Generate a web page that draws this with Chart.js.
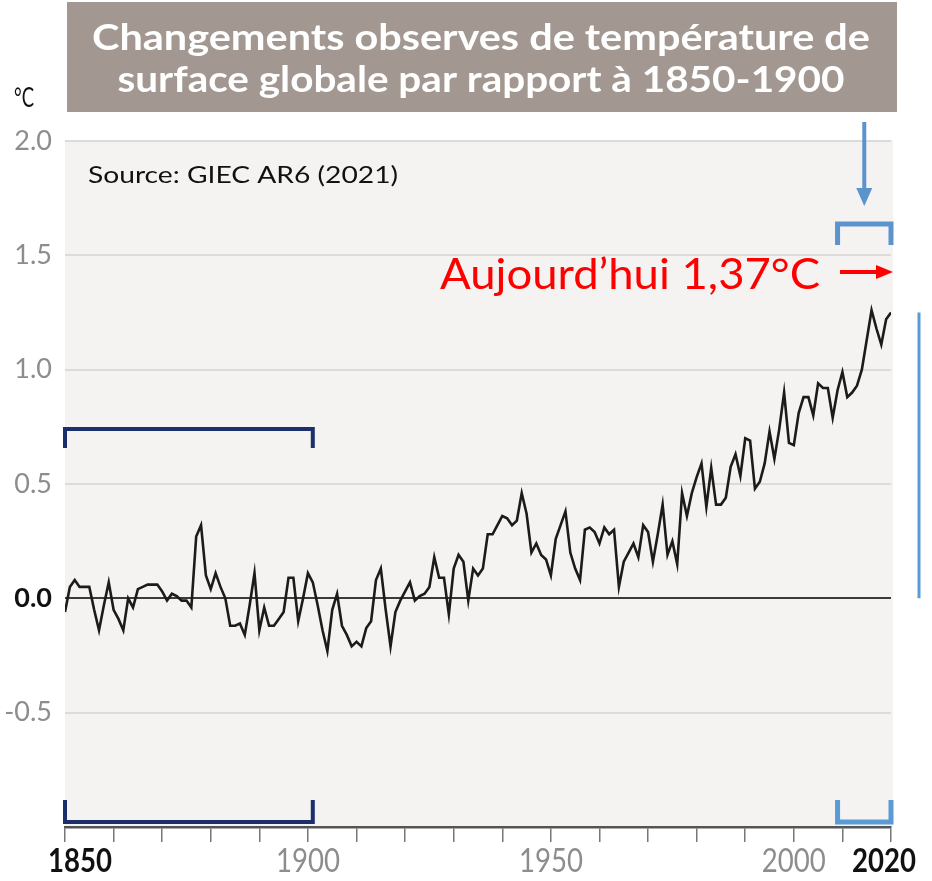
<!DOCTYPE html>
<html>
<head>
<meta charset="utf-8">
<script src="https://cdn.jsdelivr.net/npm/chart.js@4.4.0/dist/chart.umd.min.js"></script>
<style>
html,body{margin:0;padding:0;background:#ffffff;}
#wrap{position:relative;width:932px;height:881px;}
canvas{display:block;}
</style>
</head>
<body>
<div id="wrap"><canvas id="c" width="932" height="881"></canvas></div>
<script>
// ---------- DATA ----------
const startYear = 1850;
const anom1850to1899 = [
  -0.06, 0.05, 0.08, 0.05, 0.05, 0.05, -0.05, -0.14, -0.03, 0.07,
  -0.05, -0.09, -0.14, 0.00, -0.04, 0.04, 0.05, 0.06, 0.06, 0.06,
  0.03, -0.01, 0.02, 0.01, -0.01, -0.01, -0.04, 0.27, 0.32, 0.10,
  0.04, 0.11, 0.05, 0.00, -0.12, -0.12, -0.11, -0.16, -0.03, 0.11,
  -0.14, -0.04, -0.12, -0.12, -0.09, -0.06, 0.09, 0.09, -0.10, 0.00
];
const anom1900to1949 = [
  0.11, 0.07, -0.03, -0.14, -0.23, -0.05, 0.02, -0.12, -0.16, -0.21,
  -0.19, -0.21, -0.13, -0.10, 0.08, 0.13, -0.05, -0.21, -0.06, -0.01,
  0.03, 0.07, -0.01, 0.01, 0.02, 0.05, 0.18, 0.09, 0.09, -0.07,
  0.13, 0.19, 0.16, -0.01, 0.13, 0.10, 0.13, 0.28, 0.28, 0.32,
  0.36, 0.35, 0.32, 0.34, 0.46, 0.37, 0.20, 0.24, 0.19, 0.17
];
const anom1950to1999 = [
  0.10, 0.26, 0.32, 0.38, 0.20, 0.13, 0.08, 0.30, 0.31, 0.29,
  0.24, 0.31, 0.28, 0.30, 0.05, 0.16, 0.20, 0.24, 0.18, 0.32,
  0.29, 0.16, 0.28, 0.41, 0.19, 0.25, 0.15, 0.46, 0.36, 0.46,
  0.53, 0.59, 0.40, 0.57, 0.41, 0.41, 0.44, 0.575, 0.63, 0.535,
  0.70, 0.69, 0.48, 0.51, 0.59, 0.73, 0.61, 0.74, 0.90, 0.68
];
const anom2000to2020 = [
  0.67, 0.81, 0.88, 0.88, 0.80, 0.94, 0.92, 0.92, 0.79, 0.91,
  0.99, 0.88, 0.90, 0.93, 1.00, 1.13, 1.26, 1.18, 1.11, 1.22,
  1.25
];
const yTickValues = [-1.0, -0.5, 0.0, 0.5, 1.0, 1.5, 2.0];
const xTickYears = [1850,1860,1870,1880,1890,1900,1910,1920,1930,1940,1950,1960,1970,1980,1990,2000,2010,2020];
const xLabelYears = [1850, 1900, 1950, 2000, 2020];
const boldXLabelYears = [1850, 2020];
const referencePeriod = [1850, 1901];
const recentPeriod = [2009, 2020];
const todayValue = 1.25;
const titleLines = ["Changements observes de température de", "surface globale par rapport à 1850-1900"];
const unitText = "°C";
const sourceText = "Source: GIEC AR6 (2021)";
const todayText = "Aujourd’hui 1,37°C";

// ---------- BUILD ----------
const anomalies = anom1850to1899.concat(anom1900to1949, anom1950to1999, anom2000to2020);
const points = anomalies.map((v, i) => ({x: startYear + i, y: v}));

function fitText(ctx, text, x, y, w, font, color, align) {
  ctx.save();
  ctx.font = font;
  ctx.fillStyle = color;
  ctx.textBaseline = 'middle';
  ctx.textAlign = 'left';
  const m = ctx.measureText(text).width;
  const sx = w / m;
  ctx.translate(x, y);
  ctx.scale(sx, 1);
  let ox = 0;
  if (align === 'center') ox = -m / 2;
  else if (align === 'right') ox = -m;
  ctx.fillText(text, ox, 0);
  ctx.restore();
}

const bgPlugin = {
  id: 'bg',
  beforeDraw(chart) {
    const {ctx, chartArea: a} = chart;
    ctx.save();
    ctx.fillStyle = '#f4f3f1';
    ctx.fillRect(a.left, a.top - 1, a.right - a.left + 2, a.bottom - a.top + 1);
    ctx.restore();
  }
};

const annotPlugin = {
  id: 'annot',
  afterDraw(chart) {
    const ctx = chart.ctx;
    const xs = chart.scales.x, ys = chart.scales.y;
    const X = v => xs.getPixelForValue(v);
    const Y = v => ys.getPixelForValue(v);
    ctx.save();

    // title box
    ctx.fillStyle = '#a29891';
    ctx.fillRect(67, 2, 830, 110);
    fitText(ctx, titleLines[0], 481, 38, 778, 'bold 36px Lato', '#ffffff', 'center');
    fitText(ctx, titleLines[1], 481, 80, 727, 'bold 36px Lato', '#ffffff', 'center');

    // unit
    fitText(ctx, unitText, 14, 98, 20, '27px Lato', '#111111', 'left');
    // source
    fitText(ctx, sourceText, 88, 176, 310, '23px Lato', '#111111', 'left');
    // today text
    fitText(ctx, todayText, 440, 275, 380, '43px Lato', '#ff0000', 'left');

    // red arrow
    ctx.strokeStyle = '#ff0000';
    ctx.fillStyle = '#ff0000';
    ctx.lineWidth = 4;
    ctx.beginPath(); ctx.moveTo(840, 272); ctx.lineTo(878, 272); ctx.stroke();
    ctx.beginPath(); ctx.moveTo(876, 265); ctx.lineTo(893, 272); ctx.lineTo(876, 279); ctx.closePath(); ctx.fill();

    // blue down arrow
    const xr0 = X(recentPeriod[0]), xr1 = X(recentPeriod[1]);
    const xm = (xr0 + xr1) / 2;
    ctx.strokeStyle = '#5b93cd';
    ctx.fillStyle = '#5b93cd';
    ctx.lineWidth = 4;
    ctx.beginPath(); ctx.moveTo(xm, 122); ctx.lineTo(xm, 190); ctx.stroke();
    ctx.beginPath(); ctx.moveTo(xm - 8, 188); ctx.lineTo(xm + 8, 188); ctx.lineTo(xm, 206); ctx.closePath(); ctx.fill();

    // top blue bracket
    ctx.lineWidth = 5;
    ctx.lineJoin = 'miter';
    ctx.lineCap = 'butt';
    ctx.beginPath(); ctx.moveTo(xr0, 245); ctx.lineTo(xr0, 224); ctx.lineTo(xr1, 224); ctx.lineTo(xr1, 245); ctx.stroke();
    // bottom light blue bracket
    ctx.strokeStyle = '#5b9bd5';
    ctx.beginPath(); ctx.moveTo(xr0, 800); ctx.lineTo(xr0, 822); ctx.lineTo(xr1, 822); ctx.lineTo(xr1, 800); ctx.stroke();

    // navy brackets for reference period
    const xa0 = X(referencePeriod[0]), xa1 = X(referencePeriod[1]);
    ctx.strokeStyle = '#1c2f6b';
    ctx.lineWidth = 4;
    ctx.beginPath(); ctx.moveTo(xa0, 448); ctx.lineTo(xa0, 429); ctx.lineTo(xa1, 429); ctx.lineTo(xa1, 448); ctx.stroke();
    ctx.beginPath(); ctx.moveTo(xa0, 800); ctx.lineTo(xa0, 822); ctx.lineTo(xa1, 822); ctx.lineTo(xa1, 800); ctx.stroke();

    // vertical blue line 0 -> today
    ctx.strokeStyle = '#5b9bd5';
    ctx.lineWidth = 3;
    ctx.beginPath(); ctx.moveTo(919, Y(0)); ctx.lineTo(919, Y(todayValue)); ctx.stroke();

    // x labels
    xLabelYears.forEach(yr => {
      const bold = boldXLabelYears.includes(yr);
      let cx = X(yr);
      if (yr === 1850) cx += 15;
      if (yr === 2020) cx -= 7;
      fitText(ctx, String(yr), cx, 861, 64,
        (bold ? 'bold ' : '') + '33px Lato', bold ? '#111111' : '#8d8d8d', 'center');
    });
    ctx.restore();
  }
};

function draw() {
  new Chart(document.getElementById('c'), {
    type: 'line',
    data: {
      datasets: [{
        data: points,
        borderColor: '#1b1b1b',
        borderWidth: 2.6,
        pointRadius: 0,
        tension: 0,
        fill: false
      }]
    },
    options: {
      responsive: false,
      animation: false,
      events: [],
      layout: {padding: {top: 141, left: 0, right: 41, bottom: 0}},
      plugins: {legend: {display: false}, tooltip: {enabled: false}},
      scales: {
        x: {
          type: 'linear',
          min: 1850, max: 2020,
          afterFit(s) { s.height = 54; },
          afterBuildTicks(s) { s.ticks = xTickYears.map(v => ({value: v})); },
          grid: {drawOnChartArea: false, drawTicks: true, tickLength: 15, color: '#777777', lineWidth: 1.5},
          border: {display: true, color: '#555555', width: 2.5},
          ticks: {autoSkip: false, maxRotation: 0, callback: () => ''}
        },
        y: {
          min: -1, max: 2,
          afterFit(s) { s.width = 65; },
          afterBuildTicks(s) { s.ticks = yTickValues.map(v => ({value: v})); },
          grid: {
            drawTicks: false,
            lineWidth: 2,
            color: c => c.tick.value === 0 ? '#3a3a3a' : (c.tick.value === -1 ? 'rgba(0,0,0,0)' : '#dddbd8')
          },
          border: {display: false},
          ticks: {
            padding: 13,
            callback: v => v === -1 ? '' : v.toFixed(1),
            color: c => c.tick && c.tick.value === 0 ? '#111111' : '#8d8d8d',
            font: c => ({family: 'Lato', size: 27, weight: (c.tick && c.tick.value === 0) ? 'bold' : 'normal'})
          }
        }
      }
    },
    plugins: [bgPlugin, annotPlugin]
  });
}

if (document.fonts && document.fonts.load) {
  Promise.all([document.fonts.load('bold 30px Lato'), document.fonts.load('30px Lato')]).then(draw, draw);
} else {
  draw();
}
</script>
</body>
</html>
